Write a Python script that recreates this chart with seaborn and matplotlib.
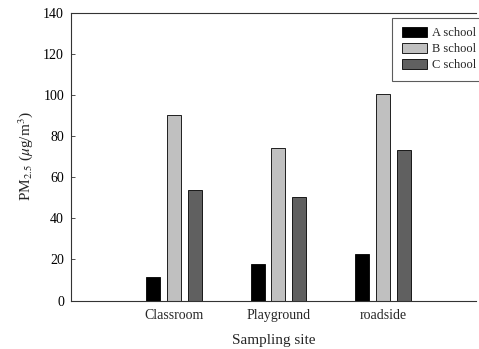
import pandas as pd
import matplotlib
matplotlib.use('Agg')
import matplotlib.pyplot as plt
import seaborn as sns

# ── DATA ───────────────────────────────────────────────
sites = ['Classroom', 'Playground', 'roadside']
schools = ['A school', 'B school', 'C school']
a_school = [11.4, 17.7, 22.4]
b_school = [90.0, 74.0, 100.6]
c_school = [53.5, 50.5, 73.4]

df = pd.DataFrame({
    'site': sites * 3,
    'school': [s for s in schools for _ in sites],
    'pm': a_school + b_school + c_school,
})

# ── STYLE ──────────────────────────────────────────────
sns.set_style('ticks')
plt.rcParams['font.family'] = ['Liberation Serif', 'DejaVu Serif']
plt.rcParams['mathtext.fontset'] = 'stix'

fig = plt.figure(figsize=(4.79, 3.49), dpi=100)
ax = fig.add_axes([71 / 479, 1 - 300.5 / 349, (476 - 71) / 479, (300.5 - 12.5) / 349])

palette = {'A school': '#000000', 'B school': '#c0c0c0', 'C school': '#606060'}
sns.barplot(data=df, x='site', y='pm', hue='school', order=sites, hue_order=schools,
            palette=palette, width=0.6, gap=0.33, edgecolor='black', linewidth=0.6,
            saturation=1, ax=ax)

ax.set_ylim(0, 140)
ax.set_yticks(range(0, 141, 20))
ax.set_xlim(-0.985, 2.89)
ax.tick_params(axis='x', length=0, labelsize=10, pad=6)
ax.tick_params(axis='y', length=3, width=0.6, labelsize=10, direction='in', pad=5, colors='#333333')
ax.tick_params(axis='y', labelcolor='black')
for side in ['left', 'bottom', 'top']:
    ax.spines[side].set_linewidth(0.8)
    ax.spines[side].set_color('#333333')
ax.spines['right'].set_visible(False)

ax.set_xlabel('Sampling site', fontsize=11, labelpad=9)
ax.set_ylabel(r'PM$_{2.5}$ ($\mu$g/m$^3$)', fontsize=11, labelpad=6)

leg = ax.legend(loc='upper left', bbox_to_anchor=(0.793, 0.981), fontsize=9,
                frameon=True, fancybox=False, edgecolor='#333333',
                handlelength=2.0, handleheight=0.8, handletextpad=0.45,
                borderpad=0.75, labelspacing=0.3, borderaxespad=0)
leg._legend_box.align = 'left'
leg.get_frame().set_linewidth(0.8)

fig.savefig('out.png', dpi=100)
